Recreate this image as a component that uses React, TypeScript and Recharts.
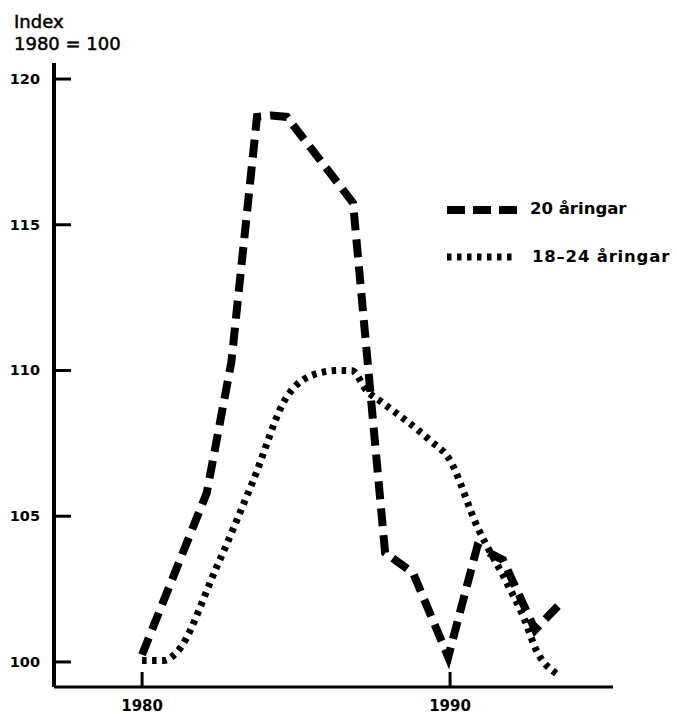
import React from 'react';
import { LineChart, Line, XAxis, YAxis, Legend } from 'recharts';

// 20 åringar (dashed)
const dashedYears = [1980.0, 1982.1, 1982.9, 1983.73, 1984.2, 1984.7, 1986.85, 1987.89, 1988.8, 1989.94, 1990.88, 1991.72, 1992.76, 1993.67];
const dashedValues = [100.25, 105.8, 110.3, 118.7, 118.75, 118.7, 115.75, 103.75, 103.05, 100.17, 103.95, 103.5, 101.1, 102.1];

// 18–24 åringar (dotted)
const dottedYears = [1980.0, 1980.7, 1981.1, 1982.4, 1983.6, 1984.7, 1985.7, 1986.4, 1986.8, 1987.3, 1987.8, 1989.35, 1989.95, 1990.9, 1991.85, 1992.4, 1992.8, 1993.45];
const dottedValues = [100.05, 100.05, 100.3, 103.2, 106.2, 109.1, 109.9, 110.0, 110.0, 109.3, 108.9, 107.6, 107.0, 104.6, 102.7, 101.5, 100.4, 99.6];

const xTicks = [1980, 1990];
const yTicks = [100, 105, 110, 115, 120];
const seriesNames = ['20 åringar', '18–24 åringar'];
const titleLines = ['Index', '1980 = 100'];

const dashedData = dashedYears.map((year, i) => ({ year, value: dashedValues[i] }));
const dottedData = dottedYears.map((year, i) => ({ year, value: dottedValues[i] }));

const FONT = '"DejaVu Sans", Verdana, sans-serif';

const YTick = (props: any) => {
  const { x, y, payload } = props;
  return (
    <g>
      <line x1={x} y1={y} x2={x + 17} y2={y} stroke="#000" strokeWidth={3} />
      <text x={x - 14} y={y + 5} textAnchor="end" fontFamily={FONT} fontWeight="bold" fontSize={14.5} fill="#000">
        {payload.value}
      </text>
    </g>
  );
};

const XTick = (props: any) => {
  const { x, y, payload } = props;
  return (
    <g>
      <line x1={x} y1={y} x2={x} y2={y - 15} stroke="#000" strokeWidth={3} />
      <text x={x} y={y + 24} textAnchor="middle" fontFamily={FONT} fontWeight="bold" fontSize={15} fill="#000">
        {payload.value}
      </text>
    </g>
  );
};

const renderLegend = () => (
  <svg width={237} height={85} style={{ display: 'block' }}>
    <line x1={7} y1={20} x2={77} y2={20} stroke="#000" strokeWidth={8} strokeDasharray="18 8" />
    <text x={90} y={24} fontFamily={FONT} fontWeight="bold" fontSize={16.5} fill="#000">{seriesNames[0]}</text>
    <line x1={7} y1={67} x2={77} y2={67} stroke="#000" strokeWidth={7} strokeDasharray="4.5 5.5" />
    <text x={92} y={72} fontFamily={FONT} fontWeight="bold" fontSize={16.5} letterSpacing={0.8} fill="#000">{seriesNames[1]}</text>
  </svg>
);

export default function App() {
  return (
    <div style={{ position: 'absolute', left: 0, top: 0, width: 677, height: 714, background: '#fff' }}>
      <LineChart width={677} height={714} margin={{ top: 63, right: 64, bottom: 0, left: 0 }}>
        <XAxis
          type="number"
          dataKey="year"
          domain={[1977.14, 1995.29]}
          ticks={xTicks}
          allowDataOverflow
          height={27}
          tickSize={0}
          tickMargin={0}
          tickLine={false}
          axisLine={{ stroke: '#000', strokeWidth: 3 }}
          tick={<XTick />}
          interval={0}
        />
        <YAxis
          type="number"
          domain={[99.14, 120.55]}
          ticks={yTicks}
          allowDataOverflow
          width={54}
          tickSize={0}
          tickMargin={0}
          tickLine={false}
          axisLine={{ stroke: '#000', strokeWidth: 4 }}
          tick={<YTick />}
          interval={0}
        />
        <Legend
          layout="vertical"
          align="center"
          verticalAlign="middle"
          content={renderLegend}
          wrapperStyle={{ position: 'absolute', left: 440, top: 190, width: 237, height: 85, bottom: 'auto', right: 'auto' }}
        />
        <Line
          data={dashedData}
          dataKey="value"
          name={seriesNames[0]}
          type="linear"
          stroke="#000"
          strokeWidth={8}
          strokeDasharray="18 9"
          dot={false}
          activeDot={false}
          isAnimationActive={false}
        />
        <Line
          data={dottedData}
          dataKey="value"
          name={seriesNames[1]}
          type="monotone"
          stroke="#000"
          strokeWidth={7}
          strokeDasharray="4.5 5.5"
          dot={false}
          activeDot={false}
          isAnimationActive={false}
        />
      </LineChart>
      <svg width={200} height={60} style={{ position: 'absolute', left: 0, top: 0, pointerEvents: 'none' }}>
        <text x={14} y={28} fontFamily={FONT} fontSize={18} fill="#000" stroke="#000" strokeWidth={0.5}>{titleLines[0]}</text>
        <text x={14} y={50} fontFamily={FONT} fontSize={18} fill="#000" stroke="#000" strokeWidth={0.5}>{titleLines[1]}</text>
      </svg>
    </div>
  );
}
